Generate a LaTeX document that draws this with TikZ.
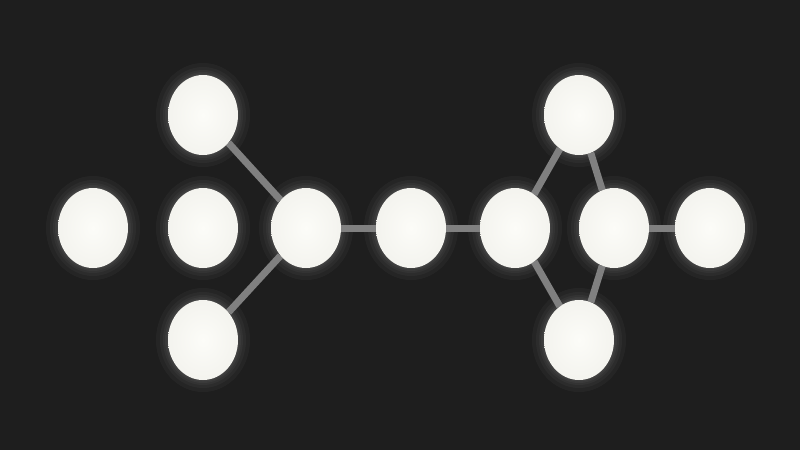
\documentclass[tikz,border=0pt]{standalone}
\usepackage{xcolor}
\usepackage{tikz}
\usetikzlibrary{shapes.geometric,backgrounds,positioning}

\definecolor{bgdark}{RGB}{30,30,30}
\definecolor{bondgray}{RGB}{128,128,128}
\definecolor{atomcore}{RGB}{252,252,248}
\definecolor{atomrim}{RGB}{218,217,209}
\pgfdeclareradialshading{atomshade}{\pgfpoint{0bp}{0bp}}{%
  color(0bp)=(atomcore); color(25bp)=(atomcore!75!atomrim);
  color(45bp)=(atomrim); color(50bp)=(atomrim!85!black)}

\tikzset{
  atom/.style={ellipse, minimum width=70, minimum height=80, inner sep=0,
    shading=atomshade},
  bond/.style={draw=bondgray, line width=7},
}

\begin{document}
\begin{tikzpicture}[x=1pt,y=1pt,yscale=-1,xscale=1]
\useasboundingbox (0,0) rectangle (800,450);

%atoms
\node[atom] (lone)  at (93,228)  {};
\node[atom] (up1)   at (203,115) {};
\node[atom] (mid1)  at (203,228) {};
\node[atom] (low1)  at (203,340) {};
\node[atom] (hub1)  at (306,228) {};
\node[atom] (chain) at (411,228) {};
\node[atom] (hub2)  at (515,228) {};
\node[atom] (up2)   at (579,115) {};
\node[atom] (hub3)  at (614,228) {};
\node[atom] (low2)  at (579,340) {};
\node[atom] (tail)  at (710,228) {};

\begin{scope}[on background layer]
%background
\fill[bgdark] (0,0) rectangle (800,450);
%glow round each atom
\foreach \a in {lone,up1,mid1,low1,hub1,chain,hub2,up2,hub3,low2,tail}{
  \foreach \r in {12,8,5,3,1.5}
    \fill[white, opacity=0.035] (\a.center) ellipse ({35+\r} and {40+\r});
}
%bonds
\draw[bond] (up1) -- (hub1);
\draw[bond] (low1) -- (hub1);
\draw[bond] (hub1) -- (chain);
\draw[bond] (chain) -- (hub2);
\draw[bond] (hub2) -- (up2);
\draw[bond] (up2) -- (hub3);
\draw[bond] (hub2) -- (low2);
\draw[bond] (low2) -- (hub3);
\draw[bond] (hub3) -- (tail);
\end{scope}
\end{tikzpicture}
\end{document}
